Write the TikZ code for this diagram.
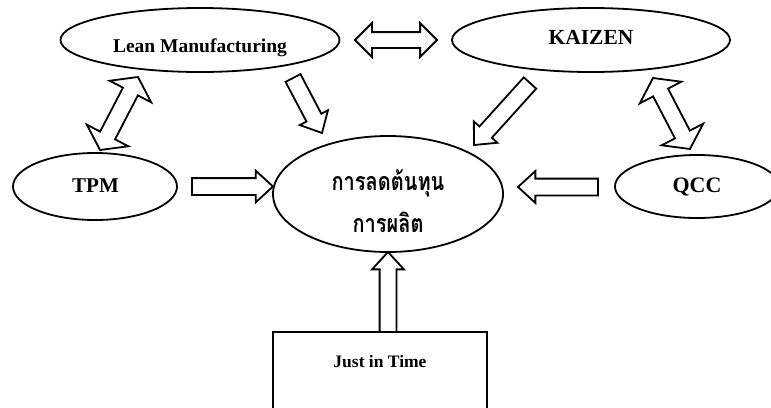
\documentclass[tikz,border=0pt]{standalone}
\usepackage{fontspec}
\setmainfont{Liberation Serif}
\newfontfamily\thaifont[Script=Thai, FakeStretch=0.8]{Loma}
\usetikzlibrary{shapes.geometric,shapes.arrows,calc}

\tikzset{
  oval/.style={ellipse, draw, line width=1.8pt, inner sep=0pt, outer sep=0pt},
  lbl/.style={anchor=base, inner sep=0pt, font=\bfseries},
  fatarrow/.style={single arrow, draw, line width=1.8pt, inner sep=7.5pt,
    single arrow head extend=7.5pt, single arrow tip angle=85,
    anchor=tail, outer sep=0pt},
  twinarrow/.style={double arrow, draw, line width=1.8pt, inner sep=7pt,
    double arrow head extend=9pt, double arrow tip angle=90, outer sep=0pt},
  widehead/.style={inner sep=7.5pt, double arrow head extend=15pt,
    double arrow tip angle=110},
}

% block arrow from #2 (tail) to #3 (tip), named #1
\newcommand\fatlink[3]{%
  \path let \p1=($(#3)-(#2)$), \n1={atan2(\y1,\x1)}, \n2={veclen(\x1,\y1)} in
    node[fatarrow, rotate=\n1, minimum height=\n2, name=#1] at (#2) {};}
% two-headed block arrow between #2 and #3, named #1, extra options #4
\newcommand\twinlink[4]{%
  \path let \p1=($(#3)-(#2)$), \n1={atan2(\y1,\x1)}, \n2={veclen(\x1,\y1)} in
    node[twinarrow, #4, rotate=\n1, minimum height=\n2, name=#1]
      at ($(#2)!0.5!(#3)$) {};}

\begin{document}
\begin{tikzpicture}[x=1pt, y=-1pt]
  \path[fill=white, use as bounding box] (0,0) rectangle (771,407);

  % outlines
  \node[oval, minimum width=279pt, minimum height=64pt] (lean) at (200,40) {};
  \node[oval, minimum width=278pt, minimum height=64pt] (kaizen) at (591,40) {};
  \node[oval, minimum width=164pt, minimum height=67pt] (tpm) at (95,186.5) {};
  \node[oval, minimum width=164pt, minimum height=63pt] (qcc) at (697,186.5) {};
  \node[oval, minimum width=230pt, minimum height=116pt] (core) at (388,194) {};
  \node[draw, line width=1.8pt, anchor=north, minimum width=214pt,
        minimum height=78pt, inner sep=0pt, outer sep=0pt] (jit) at (380,332) {};

  % labels
  \node[lbl, font=\bfseries\fontsize{19.5}{23}\selectfont] (leanlbl) at (200,52) {Lean Manufacturing};
  \node[lbl, font=\bfseries\fontsize{21.5}{25}\selectfont] (kaizenlbl) at (591,44) {KAIZEN};
  \node[lbl, font=\bfseries\fontsize{21}{25}\selectfont] (tpmlbl) at (95.5,192) {TPM};
  \node[lbl, font=\bfseries\fontsize{22}{26}\selectfont] (qcclbl) at (697,192) {QCC};
  \node[lbl, font=\bfseries\fontsize{17.5}{21}\selectfont] (jitlbl) at (380,367) {Just in Time};
  \node[lbl, font=\thaifont\bfseries\fontsize{25}{28}\selectfont] (corelbl1) at (388,190) {การลดต้นทุน};
  \node[lbl, font=\thaifont\bfseries\fontsize{25}{28}\selectfont] (corelbl2) at (388,232) {การผลิต};

  % arrow end points
  \coordinate (lk1) at (355,40);   \coordinate (lk2) at (437,40);
  \coordinate (lt1) at (138,77);   \coordinate (lt2) at (100,150);
  \coordinate (kq1) at (653,78);   \coordinate (kq2) at (690,149);
  \coordinate (lc1) at (293,78);   \coordinate (lc2) at (322,133);
  \coordinate (kc1) at (530,83);   \coordinate (kc2) at (474,145);
  \coordinate (tc1) at (192,186.5);\coordinate (tc2) at (273,186.5);
  \coordinate (qc1) at (598,187);  \coordinate (qc2) at (518,187);
  \coordinate (jc1) at (jit.north -| core.south);

  % connectors
  \twinlink{lkarrow}{lk1}{lk2}{}
  \twinlink{ltarrow}{lt1}{lt2}{widehead}
  \twinlink{kqarrow}{kq1}{kq2}{widehead}
  \fatlink{lcarrow}{lc1}{lc2}
  \fatlink{kcarrow}{kc1}{kc2}
  \fatlink{tcarrow}{tc1}{tc2}
  \fatlink{qcarrow}{qc1}{qc2}
  \fatlink{jcarrow}{jc1}{core.south}
\end{tikzpicture}
\end{document}
